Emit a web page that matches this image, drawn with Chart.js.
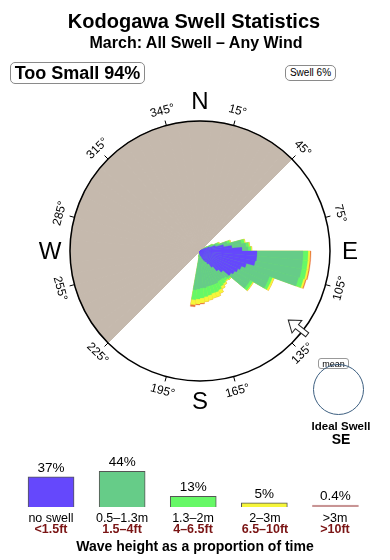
<!DOCTYPE html>
<html><head><meta charset="utf-8">
<script src="https://cdn.jsdelivr.net/npm/chart.js@4.4.1/dist/chart.umd.min.js"></script>
<style>
html,body{margin:0;padding:0;background:#fff;}
#wrap{position:relative;width:390px;height:560px;overflow:hidden;font-family:"Liberation Sans",Arial,sans-serif;color:#000;}
.t{position:absolute;white-space:nowrap;transform:translate(-50%,-50%);line-height:1;}
#rose{position:absolute;left:0;top:0;}
#bars{position:absolute;left:0;top:445px;}
.box{position:absolute;border:1px solid #8a8a8a;border-radius:5px;background:#fff;box-sizing:border-box;text-align:center;white-space:nowrap;}
.red{color:#7a1414;font-weight:bold;}
</style></head><body><div id="wrap">
<canvas id="rose" width="390" height="560"></canvas>
<canvas id="bars" width="390" height="70"></canvas>
<div class="t" style="left:194px;top:21px;font-weight:bold;font-size:20px">Kodogawa Swell Statistics</div>
<div class="t" style="left:196px;top:43px;font-weight:bold;font-size:16px">March: All Swell – Any Wind</div>
<div class="box" style="left:10px;top:62px;width:135px;height:22px;font-weight:bold;font-size:18px;line-height:20px">Too Small 94%</div>
<div class="box" style="left:285px;top:65px;width:51px;height:16px;font-size:10px;line-height:14px">Swell 6%</div>
<div class="box" style="left:318px;top:358px;width:31px;height:11px;font-size:9px;line-height:10px;border-color:#999;border-radius:3px">mean</div>
<div style="position:absolute;left:313px;top:364px;width:51px;height:51px;border:1px solid #3d5f80;border-radius:50%;box-sizing:border-box"></div>
<div class="t" style="left:341px;top:427px;font-weight:bold;font-size:11.5px">Ideal Swell</div>
<div class="t" style="left:341px;top:439px;font-weight:bold;font-size:14px">SE</div>
<div class="t" style="left:51px;top:518px;font-size:12.5px">no swell</div>
<div class="t red" style="left:51px;top:529px;font-size:12.5px">&lt;1.5ft</div>
<div class="t" style="left:122px;top:518px;font-size:12.5px">0.5–1.3m</div>
<div class="t red" style="left:122px;top:529px;font-size:12.5px">1.5–4ft</div>
<div class="t" style="left:193px;top:518px;font-size:12.5px">1.3–2m</div>
<div class="t red" style="left:193px;top:529px;font-size:12.5px">4–6.5ft</div>
<div class="t" style="left:265px;top:518px;font-size:12.5px">2–3m</div>
<div class="t red" style="left:265px;top:529px;font-size:12.5px">6.5–10ft</div>
<div class="t" style="left:335px;top:518px;font-size:12.5px">&gt;3m</div>
<div class="t red" style="left:335px;top:529px;font-size:12.5px">&gt;10ft</div>
<div class="t" style="left:195px;top:546px;font-weight:bold;font-size:14px">Wave height as a proportion of time</div>
</div>
<script>
// ---- rose data: 5-degree direction bins (start bearing), band lengths per wave-height class
const binDeg   = [55, 60, 65, 70, 75, 80, 85, 90, 95,100,105,110,115,120,125,130,135,140,145,150,155,160,165,170,175,180,185,190,195];
const noSwell  = [0.3,0.6,1.0,1.6,2.4,3.2,4.2,5.7,5.7,5.6,4.8,4.4,4.2,4.0,3.8,3.0,2.6,2.0,1.5,1.2,1.0,0.8,0.6,0.5,0.4,0.3,0.3,0.2,0.1];
const h05_13   = [0.4,0.6,0.8,1.2,1.8,1.4,0.6,4.6,4.6,4.7,5.4,3.0,3.2,1.8,2.0,0.8,1.0,1.5,2.0,2.4,2.6,2.8,3.0,3.2,3.3,3.5,3.6,0.3,0.2];
const h13_20   = [0.1,0.2,0.2,0.3,0.3,0.3,0.3,0.5,0.5,0.5,0.5,0.3,0.3,0.3,0.3,0.2,0.3,0.5,0.6,0.7,0.8,0.8,0.9,0.9,1.0,1.0,1.0,0.1,0.0];
const h20_30   = [0.0,0.0,0.1,0.1,0.1,0.1,0.1,0.2,0.2,0.2,0.2,0.2,0.2,0.1,0.1,0.1,0.1,0.2,0.3,0.4,0.5,0.5,0.5,0.5,0.5,0.5,0.5,0.0,0.0];
const h30plus  = [0.0,0.0,0.0,0.0,0.0,0.0,0.0,0.1,0.1,0.1,0.1,0.0,0.0,0.0,0.0,0.0,0.0,0.0,0.0,0.0,0.0,0.0,0.0,0.0,0.1,0.1,0.2,0.0,0.0];
const rMax = 13;
const landFrom = 225, landTo = 45;
const tickDeg = [15,45,75,105,135,165,195,225,255,285,315,345];
const compass = [['N',0],['E',90],['S',180],['W',270]];
const meanDir = 128;
// ---- legend bars
const classLabels = ['no swell','0.5–1.3m','1.3–2m','2–3m','>3m'];
const classPct = [37, 44, 13, 5, 0.4];
const classPctText = ['37%','44%','13%','5%','0.4%'];

const colors = ['#6548fc','#66cc88','#66f866','#f6f63a','#e8703a'];
const bands = [noSwell,h05_13,h13_20,h20_30,h30plus];
const NB = 72;
const labels = Array.from({length:NB},(_,i)=>String(i*5));
function cumulative(k){
  const arr = new Array(NB).fill(0);
  binDeg.forEach((d,i)=>{ let s=0; for(let j=0;j<=k;j++) s+=bands[j][i]; arr[d/5]=s; });
  return arr;
}
const land = labels.map((l)=>{ const d=+l; return (d>=landFrom || d<landTo) ? rMax : 0; });
const datasets = bands.map((b,k)=>({data:cumulative(k),backgroundColor:colors[k],borderColor:colors[k],borderWidth:0.3}));
datasets.push({data:land,backgroundColor:'#c5b9ad',borderColor:'#c5b9ad',borderWidth:1});

const rad = d=>d*Math.PI/180;
const compassPlugin = {
  id:'compass',
  afterDraw(chart){
    const s = chart.scales.r, ctx = chart.ctx;
    const cx = s.xCenter, cy = s.yCenter, R = s.drawingArea;
    const P = (d,r)=>[cx+r*Math.sin(rad(d)), cy-r*Math.cos(rad(d))];
    ctx.save();
    ctx.strokeStyle='#000'; ctx.lineWidth=1;
    tickDeg.forEach(d=>{ const a=P(d,R), b=P(d,R+5); ctx.beginPath(); ctx.moveTo(a[0],a[1]); ctx.lineTo(b[0],b[1]); ctx.stroke(); });
    ctx.fillStyle='#000'; ctx.textAlign='center'; ctx.textBaseline='middle';
    ctx.font='12px "Liberation Sans", Arial, sans-serif';
    tickDeg.forEach(d=>{
      const p=P(d,R+15); ctx.save(); ctx.translate(p[0],p[1]);
      const rot = (d>90 && d<270) ? d-180 : d; ctx.rotate(rad(rot));
      ctx.fillText(d+'°',0,0); ctx.restore();
    });
    ctx.font='24px "Liberation Sans", Arial, sans-serif';
    compass.forEach(([t,d])=>{ const p=P(d,R+20); ctx.fillText(t,p[0],p[1]+1); });
    // mean direction arrow
    const base=P(meanDir,R+2);
    ctx.translate(base[0],base[1]);
    ctx.rotate(rad(meanDir+90));
    ctx.beginPath();
    const pts=[[20,0],[9,8],[9,2.5],[-4,2.5],[-4,-2.5],[9,-2.5],[9,-8]];
    pts.forEach((q,i)=> i?ctx.lineTo(q[0],q[1]):ctx.moveTo(q[0],q[1]));
    ctx.closePath(); ctx.fillStyle='#fff'; ctx.fill(); ctx.strokeStyle='#222'; ctx.lineWidth=1; ctx.stroke();
    ctx.restore();
  }
};

new Chart(document.getElementById('rose'),{
  type:'polarArea',
  data:{labels,datasets},
  options:{
    responsive:false, animation:false, events:[],
    layout:{padding:{left:70,right:59,top:121,bottom:178}},
    plugins:{legend:{display:false},tooltip:{enabled:false}},
    scales:{r:{min:0,max:rMax,startAngle:0,
      ticks:{display:false,stepSize:rMax},
      grid:{circular:true,color:'#000',lineWidth:1.5,z:1},
      angleLines:{display:false},pointLabels:{display:false}}}
  },
  plugins:[compassPlugin]
});

const barLabelPlugin = {
  id:'barLabels',
  afterDatasetsDraw(chart){
    const ctx=chart.ctx; const meta=chart.getDatasetMeta(0);
    ctx.save(); ctx.fillStyle='#000'; ctx.textAlign='center'; ctx.textBaseline='middle';
    ctx.font='13.5px "Liberation Sans", Arial, sans-serif';
    meta.data.forEach((el,i)=>{ ctx.fillText(classPctText[i], el.x, el.y-9); });
    ctx.restore();
  }
};
new Chart(document.getElementById('bars'),{
  type:'bar',
  data:{labels:classLabels,datasets:[{data:classPct,
    backgroundColor:['#6548fc','#66cc88','#66f866','#f6f63a','#c89494'],
    borderColor:['#555','#555','#555','#555','#c89494'],
    borderWidth:1,barThickness:46,minBarLength:2}]},
  options:{
    responsive:false, animation:false, events:[],
    layout:{padding:{left:15.5,right:19,top:10,bottom:8}},
    plugins:{legend:{display:false},tooltip:{enabled:false}},
    scales:{x:{display:false},y:{display:false,min:0,max:64}}
  },
  plugins:[barLabelPlugin]
});
</script>
</body></html>
